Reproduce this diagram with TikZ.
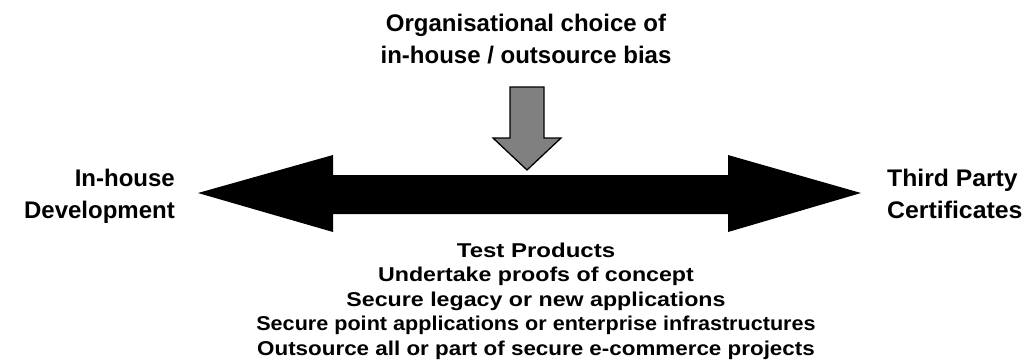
\documentclass[tikz,border=0pt]{standalone}
\usepackage{fontspec}
\usepackage{graphicx}
\setmainfont{Liberation Sans}
\begin{document}
\begin{tikzpicture}[x=1pt,y=-1pt,
  bigtxt/.style={inner sep=0pt,font=\fontsize{24}{32}\selectfont\bfseries},
  listtxt/.style={inner sep=0pt,align=center,font=\fontsize{20}{24.4}\selectfont\bfseries},
  dblarrow/.style={fill=black,draw=none},
  downarrow/.style={fill=gray,draw=black,line width=1.3pt,line join=miter}]
\useasboundingbox (0,0) rectangle (1023,360);
% double arrow
\path[dblarrow] (198,193) -- (333,155) -- (333,175) -- (728,175) -- (728,155)
  -- (861,193) -- (728,232) -- (728,214) -- (333,214) -- (333,232) -- cycle;
% down arrow
\draw[downarrow] (510,87) -- (544,87) -- (544,138) -- (561,138) -- (527,170)
  -- (493,138) -- (510,138) -- cycle;
% labels
\node[bigtxt,align=center,anchor=north] (top) at (526,14) {Organisational choice of\\in-house / outsource bias};
\node[bigtxt,align=right,anchor=north east] (left) at (175,169) {In-house\\Development};
\node[bigtxt,align=left,anchor=north west] (right) at (887,169) {\scalebox{1.03}[1]{Third Party}\\\scalebox{1.035}[1]{Certificates}};
\node[listtxt,anchor=base] (list) at (536,355) {\scalebox{1.2}[1]{Test Products}\\
  \scalebox{1.16}[1]{Undertake proofs of concept}\\
  \scalebox{1.16}[1]{Secure legacy or new applications}\\
  \scalebox{1.08}[1]{Secure point applications or enterprise infrastructures}\\
  \scalebox{1.12}[1]{Outsource all or part of secure e-commerce projects}};
\end{tikzpicture}
\end{document}
